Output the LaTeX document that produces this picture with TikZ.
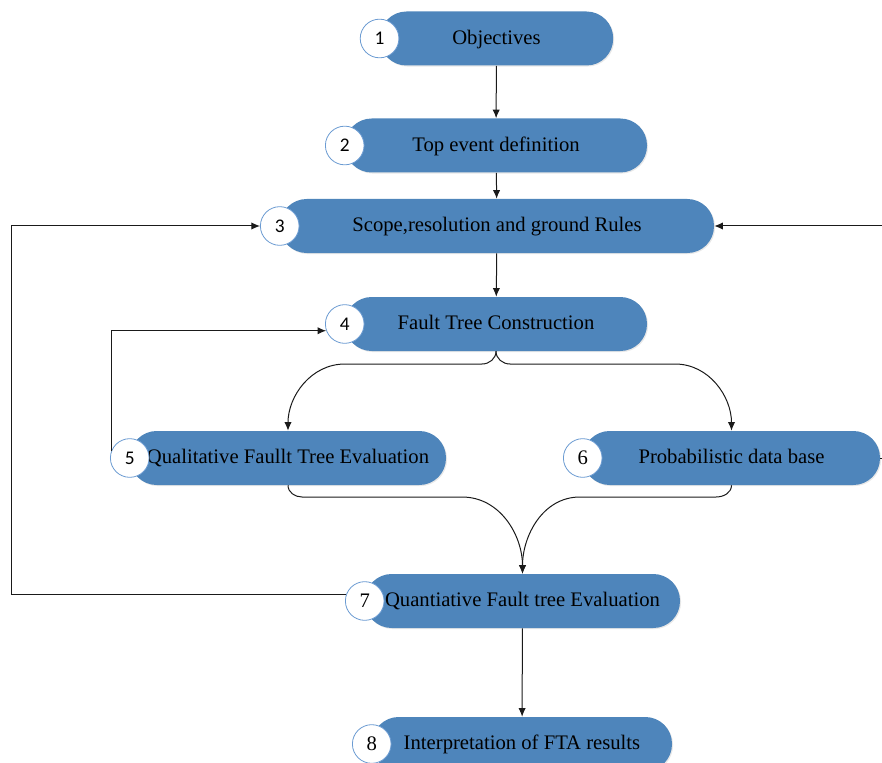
\documentclass[tikz,border=0pt]{standalone}
\usepackage{fontspec}
\setmainfont{Liberation Serif}
\newfontfamily\numsans{Carlito}
\usetikzlibrary{arrows.meta,shadows}
\definecolor{ftblue}{HTML}{4E85BB}
\definecolor{ftring}{HTML}{6B9BD2}
\definecolor{ftgray}{HTML}{1A1A1A}
\begin{document}
\begin{tikzpicture}[x=0.75pt,y=-0.75pt,>={Latex[length=6.5pt,width=5.5pt]},
  st/.style={rectangle,rounded corners=20pt,fill=ftblue,minimum height=40.5pt,inner sep=2pt,
    text height=11pt,text depth=2.4pt,
    font=\fontsize{15.5}{18}\selectfont,drop shadow={opacity=0.18,shadow xshift=0.8pt,shadow yshift=-0.8pt}},
  num/.style={circle,draw=ftring,fill=white,line width=0.6pt,minimum size=29pt,inner sep=0pt,
    font=\numsans\fontsize{14.5}{16}\selectfont},
  numr/.style={num,font=\fontsize{15.5}{17}\selectfont},
  ar/.style={->,line width=0.75pt,ftgray}]
  \clip (0,0) rectangle (882,763);
  % steps
  \node[st,minimum width=175pt]    (b1) at (496.5,38.5) {Objectives};
  \node[st,minimum width=226.5pt]  (b2) at (496,145.5)  {Top event definition};
  \node[st,minimum width=325.5pt]  (b3) at (497,226)    {Scope,resolution and ground Rules};
  \node[st,minimum width=226.5pt]  (b4) at (496,324)    {Fault Tree Construction};
  \node[st,minimum width=237pt]    (b5) at (288,458)    {Qualitative Faullt Tree Evaluation};
  \node[st,minimum width=222.75pt] (b6) at (731.5,458)  {Probabilistic data base};
  \node[st,minimum width=236.25pt] (b7) at (522.5,601)  {Quantiative Fault tree Evaluation};
  \node[st,minimum width=225pt]    (b8) at (522,744)    {Interpretation of FTA results};
  % step numbers
  \node[num]  (n1) at (b1.west) {1};
  \node[num]  (n2) at (b2.west) {2};
  \node[num]  (n3) at (b3.west) {3};
  \node[num]  (n4) at (b4.west) {4};
  \node[num]  (n5) at (b5.west) {5};
  \node[numr] (n6) at (b6.west) {6};
  \node[numr] (n7) at (b7.west) {7};
  \node[numr] (n8) at (b8.west) {8};
  % main flow
  \draw[ar] (b1) -- (b2);
  \draw[ar] (b2) -- (b3);
  \draw[ar] (b3) -- (b4);
  \draw[ar] (b4.south) to[out=-90,in=0] (482,364) -- (345,364) to[out=180,in=90] (b5.north);
  \draw[ar] (b4.south) to[out=-90,in=180] (510,364) -- (675,364) to[out=0,in=90] (b6.north);
  \draw[ar] (b5.south) to[out=-90,in=180] (302,497) -- (462,497) to[out=0,in=90] (b7.north);
  \draw[ar] (b6.south) to[out=-90,in=0] (716,497) -- (580,497) to[out=180,in=90] (b7.north);
  \draw[ar] (b7) -- (b8);
  % feedback loops
  \coordinate (lf) at (11,226);
  \coordinate (rt) at (886,226);
  \draw[ar] (n5.160) |- (n4.200);
  \draw[ar] (n7.160) -| (lf) -- (n3.west);
  \draw[ar] (b6.east) -| (rt) -- (b3.east);
\end{tikzpicture}
\end{document}
